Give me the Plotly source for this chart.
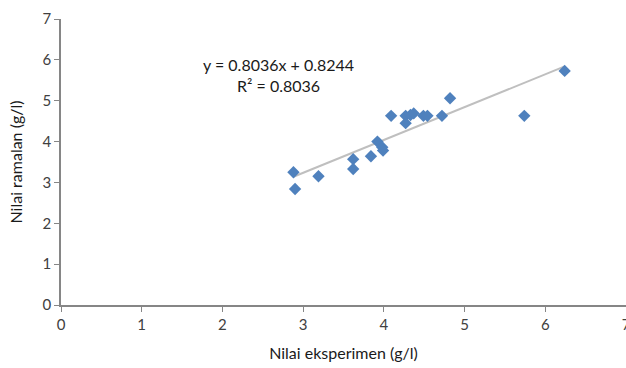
import plotly.graph_objects as go

# Data
nilai_eksperimen = [2.88, 2.90, 3.19, 3.62, 3.62, 3.84, 3.92, 3.98, 3.99, 4.09,
                    4.27, 4.27, 4.33, 4.37, 4.49, 4.54, 4.72, 4.82, 5.74, 6.24]
nilai_ramalan = [3.25, 2.84, 3.15, 3.57, 3.33, 3.64, 4.00, 3.86, 3.78, 4.63,
                 4.63, 4.45, 4.65, 4.69, 4.63, 4.63, 4.63, 5.06, 4.63, 5.73]
slope = 0.8036
intercept = 0.8244
r2 = 0.8036
x_ticks = [0, 1, 2, 3, 4, 5, 6, 7]
y_ticks = [0, 1, 2, 3, 4, 5, 6, 7]

xmin, xmax = min(nilai_eksperimen), max(nilai_eksperimen)
trend_x = [xmin, xmax]
trend_y = [slope * v + intercept for v in trend_x]

FONT = "Lato"
fig = go.Figure()
fig.add_trace(go.Scatter(x=trend_x, y=trend_y, mode="lines",
                         line=dict(color="#BFBFBF", width=2), hoverinfo="skip",
                         showlegend=False))
fig.add_trace(go.Scatter(x=nilai_eksperimen, y=nilai_ramalan, mode="markers",
                         marker=dict(symbol="diamond", size=9.5, color="#4F81BD",
                                     line=dict(width=0)),
                         showlegend=False))

fig.add_annotation(x=2.69, y=5.64, xref="x", yref="y",
                   text=f"y = {slope}x + {intercept}<br>R² = {r2}",
                   showarrow=False, align="center",
                   font=dict(family=FONT, size=16, color="#1a1a1a"))

axis_common = dict(showgrid=False, zeroline=False, showline=True,
                   linecolor="#868686", linewidth=1.5, ticks="outside",
                   ticklen=5, tickcolor="#868686", automargin=False,
                   ticklabeloverflow="allow",
                   tickfont=dict(family=FONT, size=15, color="#404040"))

fig.update_layout(
    width=626, height=368,
    margin=dict(l=61, r=0, t=19, b=63),
    paper_bgcolor="white", plot_bgcolor="white",
    xaxis=dict(range=[0, 7], tickvals=x_ticks, **axis_common,
               title=dict(text="Nilai eksperimen (g/l)", standoff=16,
                          font=dict(family=FONT, size=16, color="#1a1a1a"))),
    yaxis=dict(range=[0, 7], tickvals=y_ticks, **axis_common,
               title=dict(text="Nilai ramalan (g/l)", standoff=16,
                          font=dict(family=FONT, size=16, color="#1a1a1a"))),
)

fig.write_html("out.html")
